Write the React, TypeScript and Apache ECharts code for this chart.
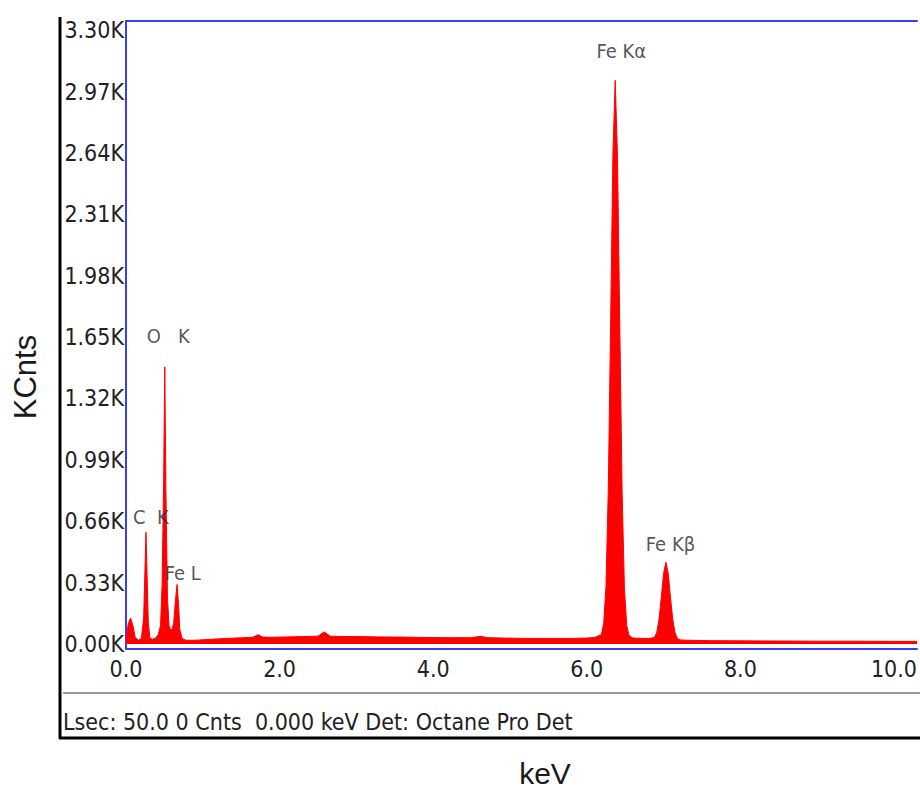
import React, { useEffect, useRef } from "react";
import * as echarts from "echarts";

// Spectrum (energy in keV, counts in K)
const energyKeV = [
  0.0, 0.03, 0.06, 0.09, 0.12, 0.16, 0.2, 0.23, 0.25, 0.26, 0.27, 0.29, 0.31, 0.34, 0.38, 0.42, 0.45, 0.47, 0.49,
  0.505, 0.52, 0.54, 0.56, 0.58, 0.6, 0.62, 0.645, 0.665, 0.685, 0.7, 0.73, 0.78,
  0.9, 1.1, 1.3, 1.5, 1.65, 1.72, 1.78, 1.9, 2.1, 2.3, 2.5, 2.58, 2.66, 2.8, 3.0, 3.3, 3.6, 3.9, 4.2, 4.5, 4.62,
  4.7, 4.9, 5.2, 5.5, 5.8, 6.0, 6.1,
  6.19, 6.22, 6.25, 6.28, 6.31, 6.34, 6.37, 6.4, 6.43, 6.46, 6.49, 6.52, 6.55, 6.6, 6.7, 6.8, 6.85,
  6.88, 6.91, 6.94, 6.97, 7.0, 7.03, 7.06, 7.09, 7.12, 7.15, 7.18, 7.22, 7.3, 7.6, 8.0, 8.5, 9.0, 9.5, 10.0, 10.3,
];
const countsK = [
  0.03, 0.11, 0.14, 0.1, 0.035, 0.02, 0.03, 0.14, 0.45, 0.6, 0.44, 0.12, 0.035, 0.025, 0.03, 0.05, 0.1, 0.32, 0.88,
  1.49, 0.82, 0.25, 0.1, 0.075, 0.08, 0.11, 0.24, 0.32, 0.21, 0.08, 0.03, 0.02,
  0.02, 0.025, 0.03, 0.033, 0.036, 0.05, 0.037, 0.036, 0.038, 0.04, 0.042, 0.065, 0.042, 0.04, 0.04, 0.038, 0.037,
  0.035, 0.034, 0.034, 0.042, 0.034, 0.032, 0.03, 0.03, 0.03, 0.032, 0.035,
  0.05, 0.11, 0.31, 0.83, 1.71, 2.63, 3.03, 2.62, 1.7, 0.82, 0.3, 0.1, 0.045, 0.032, 0.03, 0.03, 0.032,
  0.035, 0.06, 0.13, 0.25, 0.38, 0.44, 0.38, 0.25, 0.13, 0.06, 0.03, 0.022, 0.02, 0.018, 0.017, 0.016, 0.015,
  0.015, 0.014, 0.014,
];

// Peak labels: [keV, KCnts, text]
const peakLabelX = [6.45, 7.09, 0.55, 0.324, 0.74];
const peakLabelY = [3.19, 0.54, 1.653, 0.68, 0.384];
const peakLabelText = ["Fe K\u03b1", "Fe K\u03b2", "O\u00a0\u00a0\u00a0K", "C\u00a0\u00a0K", "Fe L"];

const xTickValues = [0, 2, 4, 6, 8, 10];
const yTickValues = [0, 0.33, 0.66, 0.99, 1.32, 1.65, 1.98, 2.31, 2.64, 2.97, 3.3];

const xMin = 0;
const xMax = 10.3;
const yMin = -0.027;
const yMax = 3.349;

const footerText = "Lsec: 50.0 0 Cnts  0.000 keV Det: Octane Pro Det";
const yTitle = "KCnts";
const xTitle = "keV";

const COND = '"DejaVu Sans Condensed", "Liberation Sans Narrow", "DejaVu Sans", sans-serif';
const BLUE = "#3c3cf6";

export default function App() {
  const ref = useRef<HTMLDivElement>(null);
  useEffect(() => {
    if (!ref.current) return;
    const chart = echarts.init(ref.current, undefined, { renderer: "svg" });
    const spectrum = energyKeV.map((e, i) => [e, countsK[i]]);
    const labels = peakLabelX.map((x, i) => [x, peakLabelY[i], peakLabelText[i]]);
    chart.setOption({
      animation: false,
      backgroundColor: "#ffffff",
      grid: { left: 126, right: 0, top: 21, bottom: 143, containLabel: false },
      xAxis: [
        {
          type: "value",
          min: xMin,
          max: xMax,
          axisLine: { show: true, onZero: false, lineStyle: { color: BLUE, width: 2 } },
          axisTick: { show: false },
          splitLine: { show: false },
          axisLabel: {
            customValues: xTickValues,
            formatter: (v: number) => v.toFixed(1),
            color: "#222",
            fontFamily: COND,
            fontSize: 23,
            margin: 8,
          },
        },
        {
          type: "value",
          position: "top",
          min: xMin,
          max: xMax,
          axisLine: { show: true, onZero: false, lineStyle: { color: BLUE, width: 2 } },
          axisTick: { show: false },
          splitLine: { show: false },
          axisLabel: { show: false },
        },
      ],
      yAxis: {
        type: "value",
        min: yMin,
        max: yMax,
        axisLine: { show: true, onZero: false, lineStyle: { color: BLUE, width: 2 } },
        axisTick: { show: false },
        splitLine: { show: false },
        axisLabel: {
          customValues: yTickValues,
          formatter: (v: number) => v.toFixed(2) + "K",
          color: "#222",
          fontFamily: COND,
          fontSize: 23,
          margin: 2,
        },
      },
      series: [
        {
          type: "line",
          data: spectrum,
          showSymbol: false,
          symbol: "none",
          lineStyle: { color: "#ff0000", width: 1 },
          areaStyle: { color: "#ff0000", opacity: 1 },
          z: 2,
        },
        {
          type: "scatter",
          data: labels,
          symbolSize: 1,
          itemStyle: { color: "rgba(0,0,0,0)" },
          label: {
            show: true,
            position: "inside",
            formatter: (p: any) => p.data[2],
            color: "#2a2a2a",
            fontFamily: COND,
            fontSize: 20,
          },
          z: 5,
        },
      ],
      graphic: [
        { type: "line", shape: { x1: 60, y1: 17, x2: 60, y2: 739 }, style: { stroke: "#000", lineWidth: 3 } },
        { type: "line", shape: { x1: 59, y1: 738, x2: 920, y2: 738 }, style: { stroke: "#000", lineWidth: 3 } },
        { type: "line", shape: { x1: 63, y1: 693, x2: 920, y2: 693 }, style: { stroke: "#999", lineWidth: 2 } },
        {
          type: "text",
          x: 63,
          y: 722,
          style: { text: footerText, fill: "#222", font: `23px ${COND}`, textVerticalAlign: "middle" },
        },
        {
          type: "text",
          x: 25,
          y: 377,
          rotation: Math.PI / 2,
          style: {
            text: yTitle,
            fill: "#1a1a1a",
            font: '31px "Liberation Sans", Arial, sans-serif',
            textAlign: "center",
            textVerticalAlign: "middle",
          },
        },
        {
          type: "text",
          x: 545,
          y: 773,
          style: {
            text: xTitle,
            fill: "#1a1a1a",
            font: '30px "Liberation Sans", Arial, sans-serif',
            textAlign: "center",
            textVerticalAlign: "middle",
          },
        },
      ],
    });
    return () => chart.dispose();
  }, []);
  return <div ref={ref} style={{ position: "absolute", left: 0, top: 0, width: 920, height: 792 }} />;
}
